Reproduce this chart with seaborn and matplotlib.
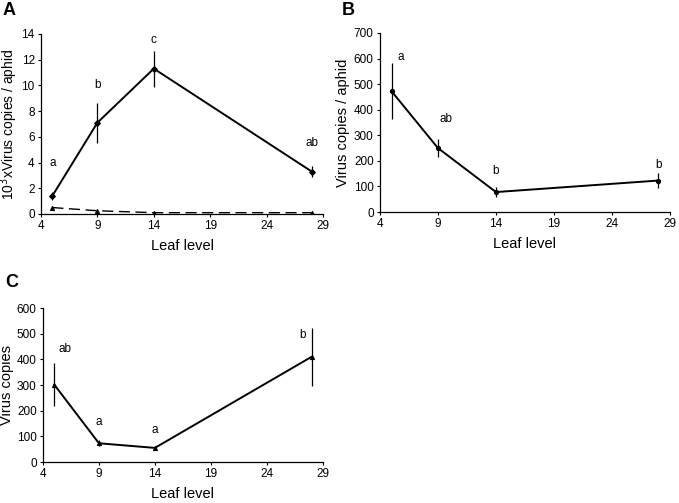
# Leaf level vs virus copies, three panels

import pandas as pd
import seaborn as sns
import matplotlib.pyplot as plt

leaf = [5, 9, 14, 28]

# panel A (10^3 x virus copies / aphid)
a_solid = [1.4, 7.1, 11.3, 3.3]
a_solid_err = [0.3, 1.55, 1.4, 0.4]
a_dash = [0.5, 0.25, 0.1, 0.1]
a_letters = ['a', 'b', 'c', 'ab']
a_letter_pos = [(5, 4.0), (9, 10.0), (14, 13.5), (28, 5.5)]

# panel B (virus copies / aphid)
b_vals = [472, 250, 78, 123]
b_err = [110, 36, 18, 30]
b_letters = ['a', 'ab', 'b', 'b']
b_letter_pos = [(5.8, 605), (9.7, 365), (14, 160), (28, 185)]

# panel C (virus copies)
c_vals = [302, 73, 55, 410]
c_err = [83, 12, 5, 112]
c_letters = ['ab', 'a', 'a', 'b']
c_letter_pos = [(6.0, 440), (9, 155), (14, 125), (27.2, 495)]

sns.set_style('ticks')
plt.rcParams['font.family'] = ['Liberation Sans', 'DejaVu Sans']
plt.rcParams['text.color'] = 'black'
plt.rcParams['axes.labelcolor'] = 'black'
plt.rcParams['xtick.color'] = 'black'
plt.rcParams['ytick.color'] = 'black'

fig = plt.figure(figsize=(6.79, 5.03), dpi=100)
axA = fig.add_axes([0.0604, 0.5746, 0.4153, 0.358])
axB = fig.add_axes([0.5596, 0.5785, 0.427, 0.356])
axC = fig.add_axes([0.0633, 0.0815, 0.412, 0.306])


def panel(ax, y, err, marker, ylim, ystep, ylabel, letters, lpos, ysize=10.5, ypad=3):
    df = pd.DataFrame({'leaf': leaf, 'val': y})
    sns.lineplot(data=df, x='leaf', y='val', ax=ax, color='black', lw=1.4,
                 marker=marker, markersize=3, markeredgecolor='black')
    ax.vlines(leaf, [v - e for v, e in zip(y, err)], [v + e for v, e in zip(y, err)],
              color='black', lw=0.9)
    for t, (x0, y0) in zip(letters, lpos):
        ax.text(x0, y0, t, ha='center', va='center', fontsize=8.5)
    ax.set_xlim(4, 29)
    ax.set_xticks([4, 9, 14, 19, 24, 29])
    ax.set_ylim(*ylim)
    ax.set_yticks(range(ylim[0], ylim[1] + 1, ystep))
    ax.set_xlabel('Leaf level', fontsize=10.5, labelpad=5)
    ax.set_ylabel(ylabel, fontsize=ysize, labelpad=ypad)
    ax.tick_params(labelsize=8.5, length=2.5, width=0.8, pad=2)
    sns.despine(ax=ax)
    for s in ['left', 'bottom']:
        ax.spines[s].set_linewidth(0.9)
        ax.spines[s].set_color('black')


panel(axA, a_solid, a_solid_err, 'D', (0, 14), 2,
      r'10$^3$xVirus copies / aphid', a_letters, a_letter_pos, ysize=10, ypad=1)
dfd = pd.DataFrame({'leaf': leaf, 'val': a_dash})
sns.lineplot(data=dfd, x='leaf', y='val', ax=axA, color='black', lw=1.0,
             linestyle=(0, (8, 4)), marker='^', markersize=3, markeredgecolor='black')

panel(axB, b_vals, b_err, 'o', (0, 700), 100,
      'Virus copies / aphid', b_letters, b_letter_pos)
panel(axC, c_vals, c_err, '^', (0, 600), 100,
      'Virus copies', c_letters, c_letter_pos, ypad=2)

fig.text(0.004, 0.997, 'A', fontsize=13, fontweight='bold', va='top')
fig.text(0.503, 0.997, 'B', fontsize=13, fontweight='bold', va='top')
fig.text(0.007, 0.455, 'C', fontsize=13, fontweight='bold', va='top')

fig.savefig('out.png', dpi=100)
